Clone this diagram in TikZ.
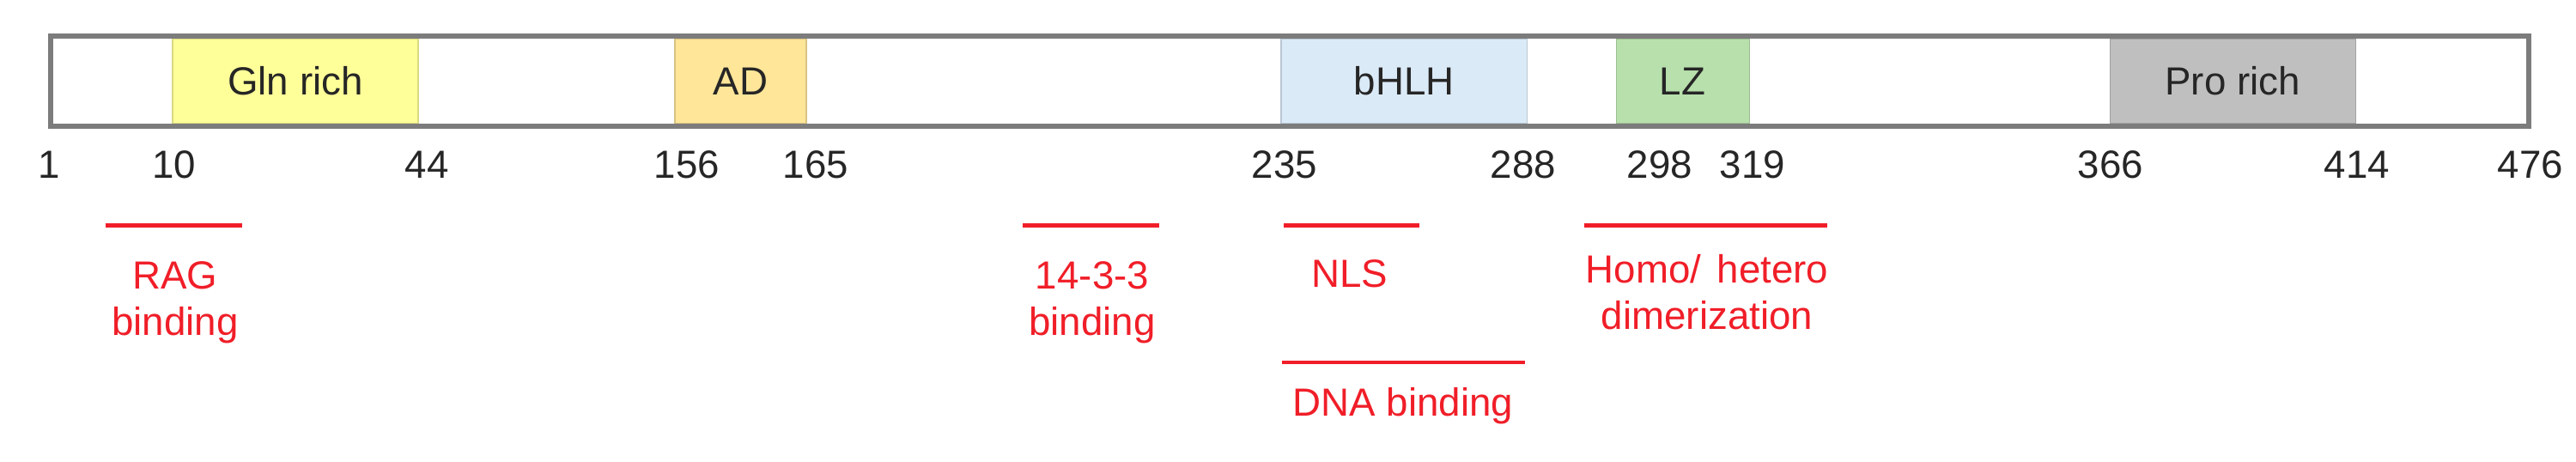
\documentclass[tikz,border=0pt]{standalone}
\usepackage{fontspec}
\setmainfont{Liberation Sans}
\usepackage{tikz}
\usetikzlibrary{positioning}

\definecolor{glncol}{RGB}{255,255,153}
\definecolor{adcol}{RGB}{255,230,153}
\definecolor{bhlhcol}{RGB}{219,234,247}
\definecolor{lzcol}{RGB}{184,224,172}
\definecolor{procol}{RGB}{191,191,191}
\definecolor{barcol}{RGB}{124,124,124}
\definecolor{numcol}{RGB}{38,38,38}
\definecolor{sitecol}{RGB}{240,30,40}

\tikzset{
    protbar/.style={draw=barcol, line width=0.68mm, fill=white, inner sep=0pt,
        outer sep=0pt, minimum width=28.86cm, minimum height=1.05cm},
    dombox/.style={draw=#1!85!black, line width=0.3pt, fill=#1, inner sep=0pt,
        minimum height=0.98cm, text=numcol},
    numlbl/.style={anchor=base, inner sep=0pt, text=numcol},
    siteline/.style={draw=sitecol, line width=0.45mm},
    sitelbl/.style={anchor=base, align=center, inner sep=0pt, text=sitecol}
}

\begin{document}
\begin{tikzpicture}[font=\fontsize{13}{15.6}\selectfont]
                \useasboundingbox (0,0) rectangle (30,5.38);

                %Protein
                \node[protbar] (bar) at (15.02,4.435) {};
                \node[dombox=glncol, minimum width=2.86cm] (gln) at (3.44,4.435) {Gln rich};
                \node[dombox=adcol, minimum width=1.53cm] (ad) at (8.625,4.435) {AD};
                \node[dombox=bhlhcol, minimum width=2.86cm] (bhlh) at (16.35,4.435) {bHLH};
                \node[dombox=lzcol, minimum width=1.55cm] (lz) at (19.595,4.435) {LZ};
                \node[dombox=procol, minimum width=2.86cm] (pro) at (26.00,4.435) {Pro rich};
                \draw[barcol, line width=0.68mm] (bar.north west) rectangle (bar.south east);

                %Positions
                \node[numlbl] (p1) at (0.57,3.304) {1};
                \node[numlbl] (p10) at (2.03,3.304) {10};
                \node[numlbl] (p44) at (4.97,3.304) {44};
                \node[numlbl] (p156) at (8.00,3.304) {156};
                \node[numlbl] (p165) at (9.50,3.304) {165};
                \node[numlbl] (p235) at (14.96,3.304) {235};
                \node[numlbl] (p288) at (17.74,3.304) {288};
                \node[numlbl] (p298) at (19.33,3.304) {298};
                \node[numlbl] (p319) at (20.41,3.304) {319};
                \node[numlbl] (p366) at (24.58,3.304) {366};
                \node[numlbl] (p414) at (27.45,3.304) {414};
                \node[numlbl] (p476) at (29.47,3.304) {476};

                %Sites
                \coordinate (ragA) at (1.23,2.755);
                \coordinate (ragB) at (2.82,2.755);
                \coordinate (ywhaA) at (11.91,2.755);
                \coordinate (ywhaB) at (13.50,2.755);
                \coordinate (nlsA) at (14.95,2.755);
                \coordinate (nlsB) at (16.53,2.755);
                \coordinate (dimA) at (18.45,2.755);
                \coordinate (dimB) at (21.28,2.755);
                \coordinate (dnaA) at (14.93,1.16);
                \coordinate (dnaB) at (17.76,1.16);

                \node[sitelbl] (rag) at (2.04,1.47) {RAG\\binding};
                \node[sitelbl] (ywha) at (12.72,1.47) {14-3-3\\binding};
                \node[sitelbl] (nls) at (15.72,2.034) {NLS};
                \node[sitelbl] (dim) at (19.88,1.54) {Homo/\hspace{.4em}hetero\\dimerization};
                \node[sitelbl] (dna) at (16.34,0.53) {DNA binding};

                %Lines
                \draw[siteline] (ragA) -- (ragB);
                \draw[siteline] (ywhaA) -- (ywhaB);
                \draw[siteline] (nlsA) -- (nlsB);
                \draw[siteline] (dimA) -- (dimB);
                \draw[siteline] (dnaA) -- (dnaB);
            \end{tikzpicture}
\end{document}
